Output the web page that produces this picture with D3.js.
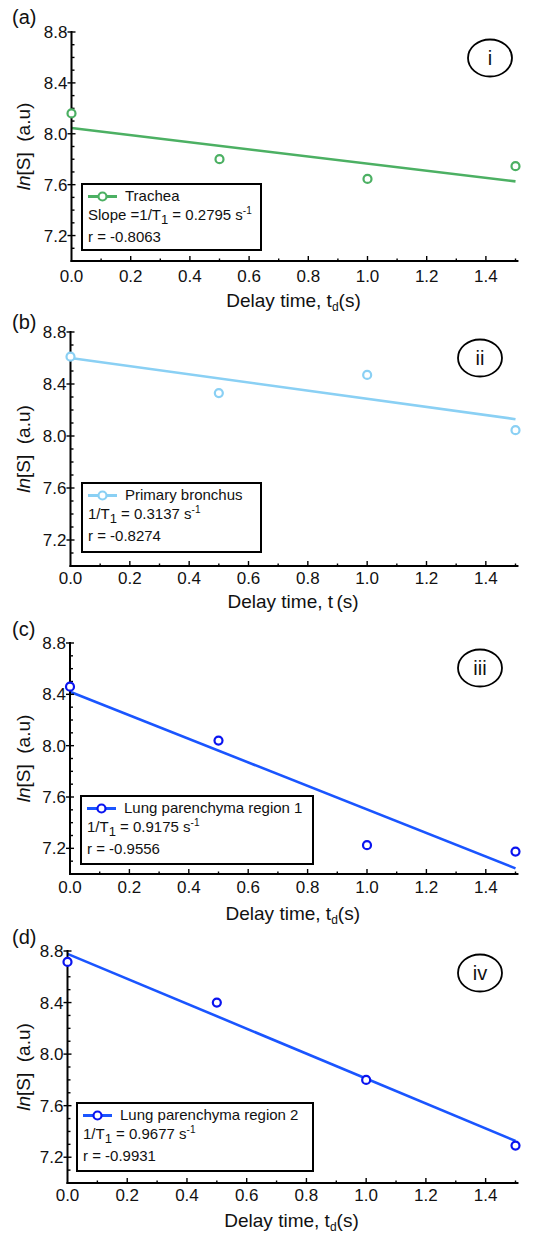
<!DOCTYPE html>
<html><head><meta charset="utf-8">
<script src="https://cdn.jsdelivr.net/npm/d3@7"></script>
<style>
body{margin:0;background:#fff;}
svg{display:block;font-family:"Liberation Sans",Arial,sans-serif;}
</style></head>
<body>
<svg id="c" width="533" height="1236"></svg>
<script>
// ---- data ----
const delayTimes = [0.0, 0.5, 1.0, 1.5];
const tracheaValues = [8.16, 7.80, 7.645, 7.745];
const bronchusValues = [8.61, 8.33, 8.47, 8.045];
const lung1Values = [8.46, 8.04, 7.225, 7.175];
const lung2Values = [8.715, 8.40, 7.80, 7.29];
const seriesNames = ["Trachea", "Primary bronchus", "Lung parenchyma region 1", "Lung parenchyma region 2"];
const fitSlopes = [-0.2795, -0.3137, -0.9175, -0.9677];
const fitIntercepts = [8.045, 8.600, 8.420, 8.778];
const rateLabels = ["0.2795", "0.3137", "0.9175", "0.9677"];
const rValues = ["-0.8063", "-0.8274", "-0.9556", "-0.9931"];
const panelLetters = ["(a)", "(b)", "(c)", "(d)"];
const romanLabels = ["i", "ii", "iii", "iv"];
const xTickValues = [0.0, 0.2, 0.4, 0.6, 0.8, 1.0, 1.2, 1.4];
const yTickValues = [7.2, 7.6, 8.0, 8.4, 8.8];
const seriesValues = [tracheaValues, bronchusValues, lung1Values, lung2Values];

// ---- layout / style ----
const colors = [
  {line:"#4cb063", mark:"#4cb063"},
  {line:"#8ad0f4", mark:"#8ad0f4"},
  {line:"#1a55ff", mark:"#0a14f0"},
  {line:"#1a55ff", mark:"#0a14f0"}
];
const panels = [
  {top:32, bottom:261, left:71.5, tickDy:21, titleDy:46, letterY:24, romanX:490, romanY:58, legend:{x:82,y:184,w:179,h:66}, sub:"d", prefix:"Slope =", letterX:12},
  {top:332, bottom:566, left:70.5, tickDy:18, titleDy:42, letterY:329, romanX:480, romanY:358, legend:{x:82,y:483,w:179,h:69}, sub:" ", prefix:"", letterX:12},
  {top:643, bottom:874, left:70, tickDy:19, titleDy:46, letterY:636, romanX:480, romanY:668, legend:{x:81,y:796,w:232,h:68}, sub:"d", prefix:"", letterX:12},
  {top:951, bottom:1183, left:67.5, tickDy:18, titleDy:44, letterY:944, romanX:480, romanY:973, legend:{x:77,y:1103,w:236,h:68}, sub:"d", prefix:"", letterX:12}
];
const x15 = 515.5;

const svg = d3.select("#c");

panels.forEach((p, i) => {
  const g = svg.append("g");
  const xMax = 1.51;
  const x = d3.scaleLinear().domain([0, xMax]).range([p.left, p.left + (x15 - p.left) * xMax / 1.5]);
  const y = d3.scaleLinear().domain([7.0, 8.8]).range([p.bottom, p.top]);

  // fitted line
  const fit = [0, 1.5].map(t => [t, fitIntercepts[i] + fitSlopes[i] * t]);
  g.append("path")
    .attr("d", d3.line().x(d => x(d[0])).y(d => y(d[1]))(fit))
    .attr("fill", "none").attr("stroke", colors[i].line).attr("stroke-width", 2.6);

  // axes lines
  const ax = g.append("g").attr("stroke", "#000").attr("stroke-width", 2);
  ax.append("line").attr("x1", p.left).attr("x2", p.left).attr("y1", p.top - 1).attr("y2", p.bottom + 1);
  ax.append("line").attr("x1", p.left - 1).attr("x2", x(xMax)).attr("y1", p.bottom).attr("y2", p.bottom);

  // y ticks
  const yMinor = d3.range(71, 89).map(v => v / 10);
  yMinor.forEach(v => {
    const major = yTickValues.some(t => Math.abs(t - v) < 1e-6);
    g.append("line").attr("x1", p.left - (major ? 4 : 0)).attr("x2", p.left + (major ? 4 : 3))
      .attr("y1", y(v)).attr("y2", y(v)).attr("stroke", "#000").attr("stroke-width", 1.4);
  });
  yTickValues.forEach(v => {
    g.append("text").attr("x", p.left - 4).attr("y", y(v) + 6)
      .attr("text-anchor", "end").attr("font-size", 17).attr("fill", "#111").text(v.toFixed(1));
  });
  // x ticks
  const xMinor = d3.range(1, 16).map(v => v / 10);
  xMinor.forEach(v => {
    const major = xTickValues.some(t => Math.abs(t - v) < 1e-6);
    g.append("line").attr("x1", x(v)).attr("x2", x(v))
      .attr("y1", p.bottom).attr("y2", p.bottom - (major ? 5 : 2.5)).attr("stroke", "#000").attr("stroke-width", 1.4);
  });
  xTickValues.forEach(v => {
    g.append("text").attr("x", x(v)).attr("y", p.bottom + p.tickDy)
      .attr("text-anchor", "middle").attr("font-size", 17).attr("fill", "#111").text(v.toFixed(1));
  });

  // axis titles
  const xt = g.append("text").attr("x", (p.left + x15) / 2 + 0).attr("y", p.bottom + p.titleDy)
    .attr("text-anchor", "middle").attr("font-size", 19).attr("fill", "#111");
  xt.append("tspan").text("Delay time, t");
  xt.append("tspan").attr("font-size", 12).attr("dy", 4).text(p.sub);
  xt.append("tspan").attr("dy", -4).text("(s)");

  const yt = g.append("text")
    .attr("transform", `translate(30,${(p.top + p.bottom) / 2}) rotate(-90)`)
    .attr("text-anchor", "middle").attr("font-size", 19).attr("fill", "#111");
  yt.append("tspan").attr("font-style", "italic").text("ln");
  yt.append("tspan").text("[S]\u00a0\u00a0(a.u)");

  // panel letter
  g.append("text").attr("x", p.letterX).attr("y", p.letterY).attr("font-size", 20).attr("fill", "#111").text(panelLetters[i]);

  // roman ellipse
  g.append("ellipse").attr("cx", p.romanX).attr("cy", p.romanY).attr("rx", 22).attr("ry", 18.5)
    .attr("fill", "none").attr("stroke", "#000").attr("stroke-width", 1.8);
  g.append("text").attr("x", p.romanX).attr("y", p.romanY + 7).attr("text-anchor", "middle")
    .attr("font-size", 20).attr("fill", "#111").text(romanLabels[i]);

  // points
  g.selectAll("circle.pt").data(delayTimes.map((t, k) => [t, seriesValues[i][k]])).enter()
    .append("circle").attr("class", "pt")
    .attr("cx", d => x(d[0])).attr("cy", d => y(d[1])).attr("r", 4)
    .attr("fill", "#fff").attr("stroke", colors[i].mark).attr("stroke-width", 2.2);

  // legend
  const L = p.legend;
  const lg = g.append("g");
  lg.append("rect").attr("x", L.x).attr("y", L.y).attr("width", L.w).attr("height", L.h)
    .attr("fill", "#fff").attr("stroke", "#000").attr("stroke-width", 2);
  lg.append("line").attr("x1", L.x + 6).attr("x2", L.x + 35).attr("y1", L.y + 12.5).attr("y2", L.y + 12.5)
    .attr("stroke", colors[i].line).attr("stroke-width", 3);
  lg.append("circle").attr("cx", L.x + 20.5).attr("cy", L.y + 12.5).attr("r", 4)
    .attr("fill", "#fff").attr("stroke", colors[i].mark).attr("stroke-width", 2.2);
  lg.append("text").attr("x", L.x + 43).attr("y", L.y + 17).attr("font-size", 15).attr("fill", "#111").text(seriesNames[i]);
  const t2 = lg.append("text").attr("x", L.x + 6).attr("y", L.y + 36).attr("font-size", 15).attr("fill", "#111");
  t2.append("tspan").text(p.prefix + "1/T");
  t2.append("tspan").attr("font-size", 13).attr("dy", 4).text("1");
  t2.append("tspan").attr("dy", -4).text(" = " + rateLabels[i] + " s");
  t2.append("tspan").attr("font-size", 10).attr("dy", -6).text("-1");
  lg.append("text").attr("x", L.x + 6).attr("y", L.y + 58).attr("font-size", 15).attr("fill", "#111").text("r = " + rValues[i]);
});
</script>
</body></html>
